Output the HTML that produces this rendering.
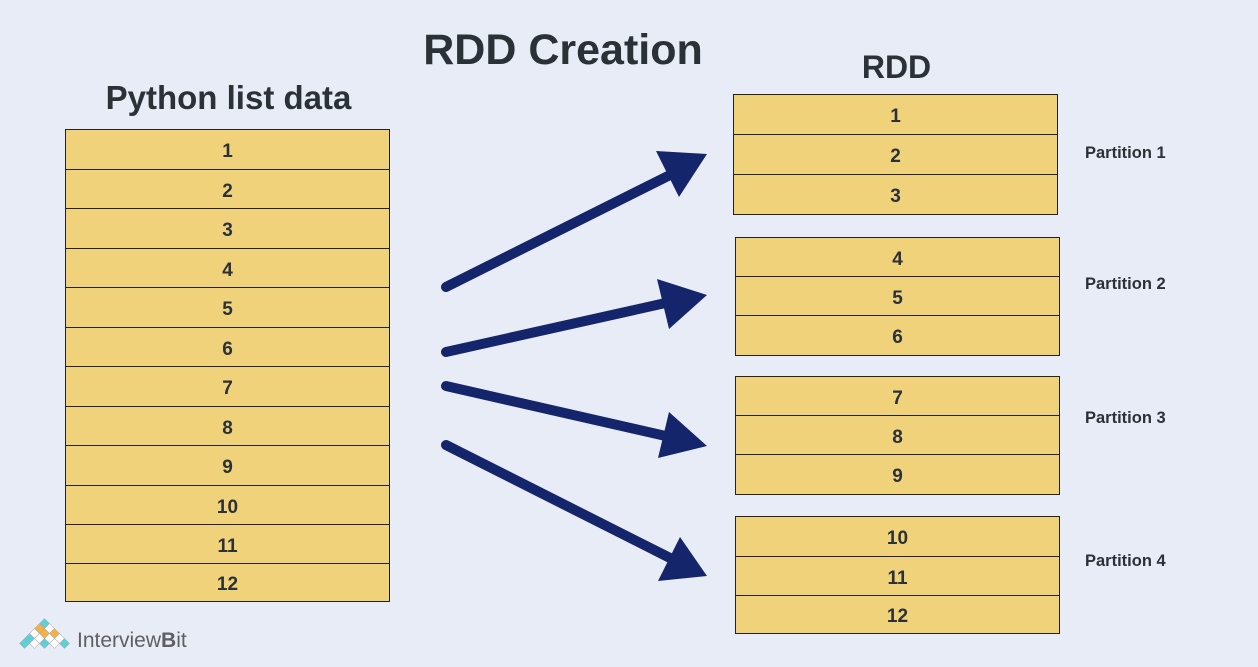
<!DOCTYPE html>
<html><head><style>
body{margin:0;width:1258px;height:667px;background:#e8ecf6;font-family:"Liberation Sans",sans-serif;position:relative;overflow:hidden;color:#2a3137}
.t{position:absolute;font-weight:bold;text-align:center}
.tb{position:absolute;border:1px solid #222;border-bottom:none}
.tb div{border-bottom:1px solid #222;background:#f0d27a;box-sizing:border-box;text-align:center;font-weight:bold;font-size:19px;display:flex;align-items:center;justify-content:center;padding-top:5px}
.p{position:absolute;font-weight:bold;font-size:16.5px}
</style></head><body>
<div class="t" style="left:380px;top:26px;width:366px;font-size:43px">RDD Creation</div>
<div class="t" style="left:66px;top:79px;width:325px;font-size:33px">Python list data</div>
<div class="t" style="left:734px;top:49px;width:325px;font-size:32px">RDD</div>
<div class="tb" style="left:65px;top:129px;width:323px">
<div style="height:40px">1</div><div style="height:39px">2</div><div style="height:40px">3</div><div style="height:39px">4</div><div style="height:40px">5</div><div style="height:39px">6</div><div style="height:40px">7</div><div style="height:39px">8</div><div style="height:40px">9</div><div style="height:39px">10</div><div style="height:39px">11</div><div style="height:38px">12</div></div>
<div class="tb" style="left:733px;top:94px;width:323px"><div style="height:40px">1</div><div style="height:40px">2</div><div style="height:40px">3</div></div>
<div class="tb" style="left:735px;top:237px;width:323px"><div style="height:39px">4</div><div style="height:39px">5</div><div style="height:40px">6</div></div>
<div class="tb" style="left:735px;top:376px;width:323px"><div style="height:39px">7</div><div style="height:39px">8</div><div style="height:40px">9</div></div>
<div class="tb" style="left:735px;top:516px;width:323px"><div style="height:40px">10</div><div style="height:39px">11</div><div style="height:38px">12</div></div>
<div class="p" style="left:1085px;top:144px">Partition 1</div>
<div class="p" style="left:1085px;top:275px">Partition 2</div>
<div class="p" style="left:1085px;top:409px">Partition 3</div>
<div class="p" style="left:1085px;top:552px">Partition 4</div>
<svg style="position:absolute;left:0;top:0" width="1258" height="667">
<g stroke="#14256b" stroke-width="10" stroke-linecap="round" fill="none">
<line x1="446" y1="287" x2="672" y2="174"/>
<line x1="446" y1="352" x2="670" y2="302"/>
<line x1="446" y1="386" x2="670" y2="437"/>
<line x1="446" y1="445" x2="674" y2="560"/>
</g>
<g fill="#14256b">
<polygon points="707,154 656,151 679,197"/>
<polygon points="707,295 657,279 669,329"/>
<polygon points="707,446 669,412 658,458"/>
<polygon points="707,576 680,537 658,581"/>
</g>
<g stroke="#aaa" stroke-width="0.5">
<rect x="41" y="620" width="7" height="7" fill="#5bd0d6" transform="rotate(45 44.5 623.5)"/>
<rect x="36" y="625" width="7" height="7" fill="#f7b142" transform="rotate(45 39.5 628.5)"/>
<rect x="46" y="625" width="7" height="7" fill="#fff" transform="rotate(45 49.5 628.5)"/>
<rect x="31" y="630" width="7" height="7" fill="#fff" transform="rotate(45 34.5 633.5)"/>
<rect x="41" y="630" width="7" height="7" fill="#f7b142" transform="rotate(45 44.5 633.5)"/>
<rect x="51" y="630" width="7" height="7" fill="#f7b142" transform="rotate(45 54.5 633.5)"/>
<rect x="26" y="635" width="7" height="7" fill="#5bd0d6" transform="rotate(45 29.5 638.5)"/>
<rect x="36" y="635" width="7" height="7" fill="#fff" transform="rotate(45 39.5 638.5)"/>
<rect x="46" y="635" width="7" height="7" fill="#fff" transform="rotate(45 49.5 638.5)"/>
<rect x="56" y="635" width="7" height="7" fill="#fff" transform="rotate(45 59.5 638.5)"/>
<rect x="21" y="640" width="7" height="7" fill="#5bd0d6" transform="rotate(45 24.5 643.5)"/>
<rect x="31" y="640" width="7" height="7" fill="#fff" transform="rotate(45 34.5 643.5)"/>
<rect x="41" y="640" width="7" height="7" fill="#5bd0d6" transform="rotate(45 44.5 643.5)"/>
<rect x="51" y="640" width="7" height="7" fill="#fff" transform="rotate(45 54.5 643.5)"/>
<rect x="61" y="640" width="7" height="7" fill="#5bd0d6" transform="rotate(45 64.5 643.5)"/>
</g>
<text x="77" y="647" font-family="Liberation Sans" font-size="21" fill="#5f5f63">Interview<tspan font-weight="bold">B</tspan>it</text>
</svg>
</body></html>
